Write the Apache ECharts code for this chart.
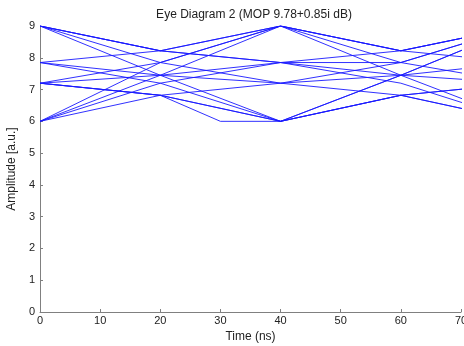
<!DOCTYPE html>
<html>
<head>
<meta charset="utf-8">
<script src="https://cdn.jsdelivr.net/npm/echarts@6/dist/echarts.min.js"></script>
<style>
html,body{margin:0;padding:0;background:#fff;}
#c{width:464px;height:346px;}
</style>
</head>
<body>
<div id="c"></div>
<script>
// Sample times (ns) for the regular traces
var times = [0, 20, 40, 60, 80];

// Trace values at the sample times
var trace1  = [9,    8.22, 9,    8.22, 7.85];
var trace2  = [9,    8.22, 7.85, 7.45, 7.2];
var trace3  = [9,    7.85, 7.2,  6.82, 6];
var trace4  = [9,    7.45, 6,    7.45, 9];
var trace5  = [7.85, 8.22, 9,    8.22, 9];
var trace6  = [7.85, 7.45, 7.2,  7.85, 9];
var trace7  = [7.85, 7.2,  6,    6.82, 7.2];
var trace8  = [7.2,  7.85, 9,    7.85, 7.2];
var trace9  = [7.2,  7.45, 7.85, 8.22, 9];
var trace11 = [7.2,  6.82, 7.2,  7.45, 7.85];
var trace12 = [6,    7.45, 9,    7.45, 6];
var trace13 = [6,    7.2,  7.85, 7.2,  6];
var trace14 = [6,    6.82, 6,    6.82, 7.2];
var trace15 = [6,    7.85, 9,    8.22, 9];
var trace16 = [9,    8.22, 7.85, 7.85, 9];
var trace17 = [7.2,  6.82, 6,    6.82, 6];

// Trace with its own sample times (flat part at the bottom)
var timesFlat = [0, 20, 30, 40, 60, 80];
var trace10   = [7.2, 6.82, 6, 6, 7.45, 9];

var traces = [trace1, trace2, trace3, trace4, trace5, trace6, trace7, trace8,
              trace9, trace11, trace12, trace13, trace14, trace15, trace16, trace17];

var xTicks = [0, 10, 20, 30, 40, 50, 60, 70];
var yTicks = [0, 1, 2, 3, 4, 5, 6, 7, 8, 9];

function pairs(t, v) {
  var out = [];
  for (var i = 0; i < t.length; i++) out.push([t[i], v[i]]);
  return out;
}

var lineColor = '#1a1aff';
var series = traces.map(function (v) {
  return {
    type: 'line', data: pairs(times, v), showSymbol: false, symbol: 'none',
    lineStyle: { color: lineColor, width: 0.9 }, silent: true, clip: true
  };
});
series.push({
  type: 'line', data: pairs(timesFlat, trace10), showSymbol: false, symbol: 'none',
  lineStyle: { color: lineColor, width: 0.9 }, silent: true, clip: true
});

var chart = echarts.init(document.getElementById('c'), null, { renderer: 'canvas' });
var font = 'Liberation Sans, Arial, sans-serif';
chart.setOption({
  animation: false,
  backgroundColor: '#ffffff',
  title: {
    text: 'Eye Diagram 2 (MOP 9.78+0.85i dB)',
    left: 249, top: 4, textAlign: 'center',
    textStyle: { fontFamily: font, fontSize: 12, fontWeight: 'normal', color: '#222' }
  },
  grid: { left: 40, right: 3, top: 26, bottom: 34, containLabel: false, outerBoundsMode: 'none' },
  xAxis: {
    type: 'value', min: xTicks[0], max: xTicks[xTicks.length - 1], interval: 10,
    name: 'Time (ns)', nameLocation: 'middle', nameGap: 14,
    nameTextStyle: { fontFamily: font, fontSize: 12, color: '#222' },
    axisLine: { lineStyle: { color: '#808080', width: 1 } },
    axisTick: { inside: true, length: 3, lineStyle: { color: '#808080' } },
    axisLabel: { fontFamily: font, fontSize: 11, color: '#222', margin: 3, hideOverlap: false },
    splitLine: { show: false }
  },
  yAxis: {
    type: 'value', min: yTicks[0], max: yTicks[yTicks.length - 1], interval: 1,
    name: 'Amplitude [a.u.]', nameLocation: 'middle', nameGap: 21,
    nameTextStyle: { fontFamily: font, fontSize: 12, color: '#222' },
    axisLine: { show: true, lineStyle: { color: '#808080', width: 1 } },
    axisTick: { show: true, inside: true, length: 3, lineStyle: { color: '#808080' } },
    axisLabel: { fontFamily: font, fontSize: 11, color: '#222', margin: 5 },
    splitLine: { show: false }
  },
  series: series
});
</script>
</body>
</html>
